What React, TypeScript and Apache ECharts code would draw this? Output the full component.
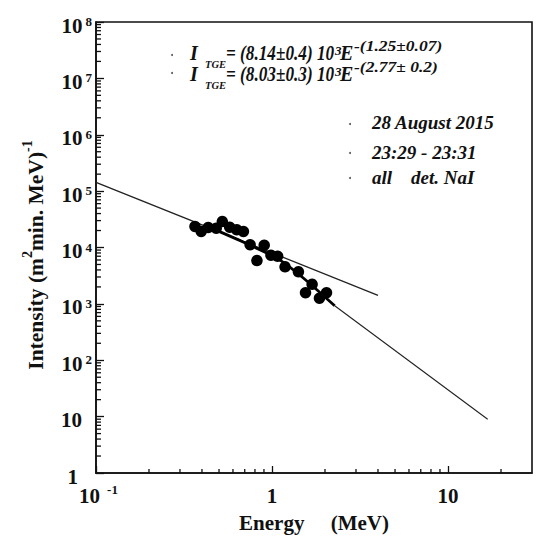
import React, { useEffect, useRef } from 'react';
import * as echarts from 'echarts';

// ---- data ----
const energy = [0.365, 0.396, 0.434, 0.482, 0.522, 0.575, 0.631, 0.688, 0.751, 0.821, 0.903, 0.986, 1.076, 1.186, 1.413, 1.69, 1.55, 2.04, 1.86];
const intensity = [2.36e4, 1.93e4, 2.27e4, 2.2e4, 2.89e4, 2.29e4, 2.06e4, 1.93e4, 1.12e4, 5.86e3, 1.1e4, 7.3e3, 7.0e3, 4.54e3, 3.71e3, 2.22e3, 1.58e3, 1.58e3, 1.26e3];

// shallow power law (thin line)
const fit1E = [0.1, 4.0];
const fit1I = [1.43e5, 1.42e3];
// steep fit (thick part)
const fit2E = [0.5, 0.775, 1.1, 1.5, 2.27];
const fit2I = [1.93e4, 1.05e4, 6.1e3, 2.91e3, 925];
// steep fit extrapolation (thin)
const ext2E = [2.27, 16.8];
const ext2I = [925, 9.0];

const xMinorTicks = [0.2, 0.3, 0.4, 0.5, 0.6, 0.7, 0.8, 0.9, 2, 3, 4, 5, 6, 7, 8, 9, 20];
const yDecades = [1, 10, 100, 1e3, 1e4, 1e5, 1e6, 1e7];
const yMinorSteps = [2, 3, 4, 5, 6, 7, 8, 9];

const formula1 = ['I', 'TGE', '= (8.14\u00b10.4) 10', '3', 'E', '-(1.25\u00b10.07)'];
const formula2 = ['I', 'TGE', '= (8.03\u00b10.3) 10', '3', 'E', '-(2.77\u00b1 0.2)'];
const notes = ['28 August 2015', '23:29 - 23:31', 'all    det. NaI'];

const FONT = '"Liberation Serif", "Times New Roman", Times, serif';
const INK = '#111';

export default function App() {
  const ref = useRef<HTMLDivElement>(null);

  useEffect(() => {
    const chart = echarts.init(ref.current!, null, { renderer: 'svg' });

    const pts = energy.map((e, i) => [e, intensity[i]]);
    const l1 = fit1E.map((e, i) => [e, fit1I[i]]);
    const l2 = fit2E.map((e, i) => [e, fit2I[i]]);
    const l3 = ext2E.map((e, i) => [e, ext2I[i]]);
    const yMinor: number[] = [];
    yDecades.forEach((d) => yMinorSteps.forEach((s) => yMinor.push(d * s)));

    const base = { fontFamily: FONT, fontWeight: 'bold' as const, color: INK };

    const tickSeries = (data: number[][], dir: 'x' | 'y', len: number) => ({
      type: 'custom',
      silent: true,
      clip: false,
      z: 5,
      data,
      renderItem: (params: any, api: any) => {
        const p = api.coord([api.value(0), api.value(1)]);
        const shape = dir === 'x'
          ? { x1: p[0], y1: p[1], x2: p[0], y2: p[1] - len }
          : { x1: p[0], y1: p[1], x2: p[0] + len, y2: p[1] };
        return { type: 'line', shape, style: { stroke: INK, lineWidth: 1.3 } };
      },
    });

    const txt = (text: string, x: number, y: number, size: number, opts: any = {}) => ({
      type: 'text',
      x,
      y,
      scaleX: opts.scaleX ?? 1,
      style: {
        text,
        fontFamily: FONT,
        fontWeight: 'bold',
        fontStyle: opts.italic === false ? 'normal' : 'italic',
        fontSize: size,
        fill: INK,
        textAlign: 'left',
        textVerticalAlign: 'middle',
        verticalAlign: 'middle',
      },
    });

    const formulaEls = (f: string[], cy: number) => [
      txt(f[0], 190, cy, 20),
      txt(f[1], 205, cy + 11.5, 10.5),
      txt(f[2], 226, cy, 21, { scaleX: 0.82 }),
      txt(f[3], 335, cy - 2.5, 13),
      txt(f[4], 340, cy, 20),
      txt(f[5], 354, cy - 7.5, 14, { scaleX: 1.25 }),
    ];

    const dot = (x: number, y: number) => ({
      type: 'circle',
      shape: { cx: x, cy: y, r: 1 },
      style: { fill: '#555' },
    });

    const option: any = {
      animation: false,
      backgroundColor: '#fff',
      grid: {
        left: 96,
        top: 22,
        width: 436,
        height: 455,
        show: true,
        borderColor: INK,
        borderWidth: 1.6,
        backgroundColor: 'transparent',
      },
      xAxis: {
        type: 'log',
        logBase: 10,
        min: 0.1,
        max: 30,
        axisLine: { show: true, lineStyle: { color: INK, width: 1.6 } },
        axisTick: { show: true, inside: true, length: 7, lineStyle: { color: INK, width: 1.3 } },
        splitLine: { show: false },
        axisLabel: {
          margin: 10,
          showMaxLabel: false,
          formatter: (v: number) => {
            const k = Math.round(Math.log10(v));
            if (Math.abs(Math.log10(v) - k) > 1e-6) return '';
            if (k === -1) return '{bm|10}{s|-1}';
            if (k === 0) return '{b|1}';
            if (k === 1) return '{b|10}';
            return '';
          },
          rich: {
            b: { ...base, fontSize: 21, lineHeight: 20, verticalAlign: 'top', padding: [2, 0, 0, 0] },
            bm: { ...base, fontSize: 21, lineHeight: 20, verticalAlign: 'top', padding: [2, 0, 0, 5] },
            s: { ...base, fontSize: 13, lineHeight: 10, verticalAlign: 'top', padding: [0, 0, 0, 7] },
          },
        },
        name: 'Energy     (MeV)',
        nameLocation: 'middle',
        nameGap: 39,
        nameTextStyle: { ...base, fontSize: 21 },
      },
      yAxis: {
        type: 'log',
        logBase: 10,
        min: 1,
        max: 1e8,
        splitNumber: 8,
        axisLine: { show: true, lineStyle: { color: INK, width: 1.6 } },
        axisTick: { show: true, inside: true, length: 8, lineStyle: { color: INK, width: 1.3 } },
        splitLine: { show: false },
        axisLabel: {
          margin: 4,
          formatter: (v: number) => {
            const k = Math.round(Math.log10(v));
            if (Math.abs(Math.log10(v) - k) > 1e-6) return '';
            if (k === 0) return '{b1|1}{e1| }';
            if (k === 1) return '{b|10}{e| }';
            return '{b|10}{s|' + k + '}';
          },
          rich: {
            b: { ...base, fontSize: 21, lineHeight: 14, verticalAlign: 'top' },
            b1: { ...base, fontSize: 21, lineHeight: 14, verticalAlign: 'top', padding: [0, 0, 6, 0] },
            s: { ...base, fontSize: 13, lineHeight: 10, verticalAlign: 'top', padding: [0, 0, 0, 3] },
            e: { ...base, fontSize: 13, lineHeight: 10, width: 10 },
            e1: { ...base, fontSize: 13, lineHeight: 10, width: 14 },
          },
        },
      },
      graphic: [
        {
          type: 'text',
          x: 30,
          y: 255,
          rotation: Math.PI / 2,
          style: {
            text: '{t|Intensity (m}{s|2}{t|min. MeV)}{s|-1}',
            textAlign: 'center',
            textVerticalAlign: 'middle',
            verticalAlign: 'middle',
            rich: {
              t: { fontFamily: FONT, fontWeight: 'bold', fontSize: 21.5, fill: INK, lineHeight: 22, verticalAlign: 'top', padding: [6, 0, 0, 0] },
              s: { fontFamily: FONT, fontWeight: 'bold', fontSize: 14, fill: INK, lineHeight: 14, verticalAlign: 'top', padding: [1, 0, 0, 0] },
            },
          },
        },
        ...formulaEls(formula1, 53.3),
        ...formulaEls(formula2, 74.2),
        dot(172, 55),
        dot(172, 73),
        txt(notes[0], 372, 122, 19),
        txt(notes[1], 372, 152.5, 19),
        txt(notes[2], 372, 177.5, 19),
        dot(350, 124),
        dot(350, 153),
        dot(350, 178),
      ],
      series: [
        {
          type: 'line',
          data: l1,
          symbol: 'none',
          lineStyle: { color: '#222', width: 1.3 },
          z: 3,
        },
        {
          type: 'line',
          data: l3,
          symbol: 'none',
          lineStyle: { color: '#222', width: 1.1 },
          z: 3,
        },
        {
          type: 'line',
          data: l2,
          symbol: 'none',
          smooth: 0.3,
          lineStyle: { color: '#000', width: 2.8 },
          z: 4,
        },
        {
          type: 'scatter',
          data: pts,
          symbol: 'circle',
          symbolSize: 11.5,
          itemStyle: { color: '#000', opacity: 1 },
          z: 6,
        },
        tickSeries(xMinorTicks.map((v) => [v, 1]), 'x', 4),
        tickSeries(yMinor.map((v) => [0.1, v]), 'y', 5),
      ],
    };

    chart.setOption(option);
    return () => chart.dispose();
  }, []);

  return (
    <div
      ref={ref}
      style={{ position: 'fixed', left: 0, top: 0, width: 536, height: 538, background: '#fff' }}
    />
  );
}
